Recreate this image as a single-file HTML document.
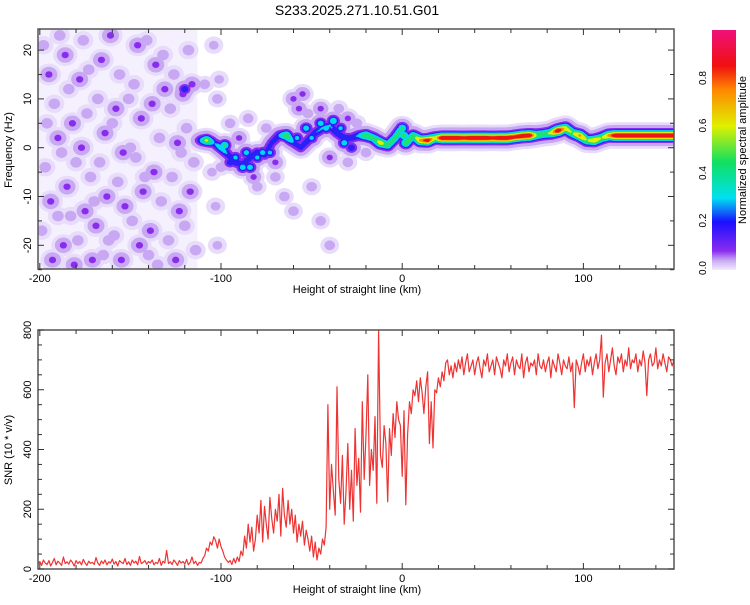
<!DOCTYPE html>
<html><head><meta charset="utf-8"><style>
body{margin:0;background:#fff;}
svg text{font-family:"Liberation Sans",sans-serif;fill:#000;}
</style></head><body>
<svg id="c" width="750" height="600" xmlns="http://www.w3.org/2000/svg">
<defs>
<linearGradient id="cb" x1="0" y1="1" x2="0" y2="0">
<stop offset="0" stop-color="#f2ecfd"/><stop offset="0.04" stop-color="#c9a8f3"/><stop offset="0.08" stop-color="#8a2cf0"/>
<stop offset="0.2" stop-color="#1a10ff"/><stop offset="0.3" stop-color="#00e0f0"/><stop offset="0.45" stop-color="#10e060"/>
<stop offset="0.6" stop-color="#e0f000"/><stop offset="0.75" stop-color="#ff8800"/><stop offset="0.85" stop-color="#f01010"/>
<stop offset="1" stop-color="#f0107a"/>
</linearGradient>
<clipPath id="clipTop"><rect x="38" y="29" width="636" height="240"/></clipPath>
<clipPath id="clipBot"><rect x="38" y="330" width="636" height="239"/></clipPath>
</defs>
<text x="357" y="15" font-size="14" text-anchor="middle">S233.2025.271.10.51.G01</text>
<g id="topg" clip-path="url(#clipTop)"></g>
<g id="botg" clip-path="url(#clipBot)"></g>
<g id="axes"></g>
<rect x="712" y="30" width="24" height="240" fill="url(#cb)"/>
<text transform="translate(746,150) rotate(-90)" font-size="11" text-anchor="middle">Normalized spectral amplitude</text>
<text transform="translate(12,150) rotate(-90)" font-size="11" text-anchor="middle">Frequency (Hz)</text>
<text transform="translate(12,450) rotate(-90)" font-size="11" text-anchor="middle">SNR (10 * v/v)</text>
<text x="357" y="293" font-size="11" text-anchor="middle">Height of straight line (km)</text>
<text x="357" y="593" font-size="11" text-anchor="middle">Height of straight line (km)</text>
</svg>
<script>
const snrStart = -201;
const snrValues = [
18,25,12,30,20,15,28,10,22,35, 14,26,20,12,40,18,24,16,30,22, 10,28,18,25,14,32,20,12,26,19,
22,15,38,20,12,27,18,30,14,24, 20,33,16,25,10,28,22,18,35,15, 24,12,30,20,26,14,42,18,22,28,
16,25,20,30,14,22,18,35,12,26, 20,62,18,24,15,30,22,12,28,20, 25,16,32,14,22,40,18,26,12,22,
20,35,45,70,60,90,80,108,95,70, 100,75,60,40,30,22,28,15,35,20, 40,25,60,45,110,70,150,90,140,60,
100,180,120,230,90,210,150,100,240,170, 120,200,160,250,110,270,180,140,230,150, 200,120,180,90,150,110,160,80,130,100,
60,110,40,90,30,70,50,100,80,140, 550,200,350,260,180,610,300,220,380,150, 260,420,200,330,160,470,280,370,190,560,
300,450,650,280,400,330,510,220,800,380, 340,480,420,225,470,380,520,440,560,500, 480,310,530,215,450,560,520,600,580,630,
560,640,590,520,610,660,420,560,405,600, 590,640,610,660,630,690,700,650,680,640, 690,660,700,670,710,650,690,720,660,680,
700,650,690,710,670,640,700,680,720,660, 680,700,650,710,690,670,640,700,680,720, 660,690,710,650,700,680,670,720,640,690,
710,660,690,680,700,650,720,680,670,700, 660,690,710,640,700,680,660,720,690,650, 700,680,670,710,660,690,540,700,680,650,
690,720,660,700,680,710,650,690,720,670, 700,783,575,690,720,660,700,740,680,650, 710,690,720,660,700,680,740,670,700,690,
720,660,700,680,730,690,580,700,720,680, 690,740,670,700,680,720,690,660,710,700, 680,700];
const ridgeKm  = [-112,-108,-104,-100,-96,-92,-88,-84,-80,-76,-72,-68,-64,-60,-56,-52,-48,-44,-40,-36,-32,-28,-24,-20,-16,-12,-8,-4,0,2,6,10,14,18,22,26,30,34,38,42,46,50,54,58,62,66,70,74,78,82,86,90,94,98,102,106,110,114,118,122,126,130,134,138,142,146,150];
const ridgeFreq= [1.5,1.5,1,0,-1.5,-3,-3.5,-2,-1,-1.5,1,2.5,2.5,1,0,1.5,3,4,4.5,3,2,2,2.5,2.5,2,1,0.5,2,4,1,2.5,1.5,1.5,2,2,2,2,2,2,2,2,2,2,2,2.2,2.4,2.5,2.6,2.8,3,3.5,4,3,2.5,1.5,1.5,2,2.5,2.5,2.5,2.5,2.5,2.5,2.5,2.5,2.5,2.5];
const ridgeAmp = [0.2,0.65,0.28,0.4,0.28,0.3,0.28,0.28,0.3,0.26,0.25,0.28,0.6,0.26,0.25,0.28,0.3,0.32,0.32,0.28,0.3,0.28,0.32,0.6,0.5,0.7,0.5,0.5,0.5,0.6,0.5,0.8,0.95,0.65,1,1,1,0.95,1,1,1,0.95,1,1,0.95,1,1,0.6,0.55,0.65,1,0.7,0.6,0.8,0.6,0.75,0.6,0.8,1,1,1,1,1,1,1,1,1];
const noiseKm = [-198,-195,-192,-190,-197,-194,-199,-193,-186,-184,-182,-188,-185,-183,-187,-181,-176,-178,-174,-177,-172,-175,-179,-171,-166,-168,-164,-167,-163,-169,-165,-161,-156,-158,-154,-157,-153,-159,-155,-160,-146,-148,-144,-147,-143,-149,-145,-150,-136,-138,-134,-137,-133,-139,-135,-141,-126,-128,-124,-127,-123,-129,-125,-131,-118,-116,-119,-115,-117,-120,-114,-121,-196,-190,-180,-173,-162,-151,-142,-132,-122,-189,-170,-140,-104,-103,-102,-105,-101];
const noiseFreq=[21,15,9,2,-4,-11,-17,-23,19,12,5,-1,-8,-14,-20,-24,22,14,7,0,-6,-13,-19,-23,18,10,3,-3,-10,-16,-22,23,15,8,-1,-7,-12,-18,-23,5,21,13,6,-2,-9,-15,-20,0,17,9,2,-5,-11,-17,-24,22,15,8,1,-6,-13,-19,-23,12,20,13,4,-3,-9,-16,-21,11,5,-14,-3,16,-19,10,-6,19,-1,23,-11,-22,21,-12,-20,-5,14];
const noiseAmp =[0.07,0.14,0.07,0.14,0.07,0.14,0.07,0.14,0.14,0.07,0.14,0.07,0.14,0.07,0.14,0.14,0.07,0.14,0.07,0.14,0.07,0.14,0.07,0.14,0.14,0.07,0.14,0.07,0.14,0.14,0.07,0.14,0.07,0.14,0.14,0.07,0.14,0.07,0.14,0.07,0.14,0.07,0.14,0.07,0.14,0.07,0.14,0.07,0.14,0.14,0.07,0.14,0.07,0.14,0.07,0.07,0.07,0.07,0.14,0.07,0.14,0.07,0.14,0.14,0.07,0.14,0.07,0.07,0.14,0.07,0.07,0.14,0.07,0.07,0.07,0.07,0.07,0.07,0.07,0.07,0.07,0.07,0.07,0.07,0.06,0.06,0.06,0.06,0.06];
const hazeKm  = [-95,-85,-80,-75,-70,-60,-57,-55,-52,-65,-60,-50,-45,-40,-35,-30,-25,-45,-90,-82,-70,-40,-30,-20,-100,-102,-109,-98,-88,-80,-73,-45,-38,-34,-120,-28,-53,-92,-84,-77,-58,-42,-32,-50,-95,-86];
const hazeFreq= [5,6,-8,4,-6,10,8,11,7,-10,-13,-8,-15,-20,8,6,5,8,2,-6,-3,-2,-3,-1,-4,10,13,0.5,-4,-2,-1,5,5.5,4,12,0,4,-2,-4,-1,2,4,1,2,-3,-1];
const hazeAmp = [0.07,0.07,0.07,0.07,0.07,0.14,0.14,0.14,0.07,0.07,0.07,0.07,0.07,0.07,0.07,0.14,0.07,0.14,0.14,0.14,0.14,0.14,0.07,0.07,0.07,0.07,0.07,0.5,0.4,0.35,0.35,0.4,0.45,0.35,0.3,0.3,0.4,0.35,0.4,0.38,0.35,0.4,0.4,0.35,0.3,0.38];
const snrTicks = [0,200,400,600,800];
const freqTicks = [-20,-10,0,10,20];
const kmTicks = [-200,-100,0,100];
const cbTicks = [0.0,0.2,0.4,0.6,0.8];

const NS='http://www.w3.org/2000/svg';
const X = km => 38 + (km + 201) * (636 / 351);
const YF = f => 147.7 - f * 4.88;
const YS = v => 569 - v * (239 / 800);
function mk(tag, attrs, parent){const e=document.createElementNS(NS,tag);for(const k in attrs)e.setAttribute(k,attrs[k]);parent.appendChild(e);return e;}
const topG=document.getElementById('topg'), botG=document.getElementById('botg'), ax=document.getElementById('axes');

const bg=mk('rect',{x:X(-201),y:29,width:X(-113)-X(-201),height:240,fill:'#f5f0fd'},topG);



const blobs=[];
for(let i=0;i<noiseKm.length;i++) blobs.push([noiseKm[i],noiseFreq[i],noiseAmp[i],4]);
for(let i=0;i<hazeKm.length;i++) blobs.push([hazeKm[i],hazeFreq[i],hazeAmp[i],3.5]);
for(let i=0;i<ridgeKm.length-1;i++){
  const k0=ridgeKm[i],k1=ridgeKm[i+1];
  for(let k=k0;k<k1;k+=1){const t=(k-k0)/(k1-k0);
    blobs.push([k,ridgeFreq[i]+(ridgeFreq[i+1]-ridgeFreq[i])*t,ridgeAmp[i]+(ridgeAmp[i+1]-ridgeAmp[i])*t,3.5]);}
}
blobs.push([ridgeKm[ridgeKm.length-1],ridgeFreq[ridgeFreq.length-1],ridgeAmp[ridgeAmp.length-1],3.5]);
const levels=[0.03,0.05,0.1,0.2,0.3,0.45,0.6,0.75,0.85];
const extra=[4,2,0,0,0,0,0,0,0];
const lcols=['#e8dcfb','#c9a8f3','#8a2cf0','#2a20f8','#00d8f0','#20e070','#e4f000','#ff8800','#ee1515'];
levels.forEach((L,li)=>{
  const g=mk('g',{fill:lcols[li]},topG);
  
  
  blobs.forEach(b=>{ if(b[2]>L){const r=b[3]*Math.sqrt(2*Math.log(b[2]/L))+extra[li];
    const e=mk('ellipse',{cx:X(b[0]),cy:YF(b[1]),rx:r*1.1,ry:r},g);
    
    }});
});

let d='';
snrValues.forEach((v,i)=>{d+=(i?'L':'M')+X(snrStart+i).toFixed(1)+' '+YS(v).toFixed(1);});
const ln=mk('path',{d:d,fill:'none',stroke:'#ee3333','stroke-width':1.2,'stroke-linejoin':'round'},botG);



function frame(y0,y1,name){
  const r=mk('rect',{x:38,y:y0,width:636,height:y1-y0,fill:'none',stroke:'#555','stroke-width':1.5},ax);
  
  
  for(let km=-200;km<=150;km+=20){const x=X(km);const L=(km%100===0)?6:4;
    mk('line',{x1:x,y1:y0,x2:x,y2:y0+L,stroke:'#333'},ax);mk('line',{x1:x,y1:y1,x2:x,y2:y1-L,stroke:'#333'},ax);}
  kmTicks.forEach(km=>{const t=mk('text',{x:X(km),y:y1+13,'font-size':11,'text-anchor':'middle'},ax);t.textContent=km;
    
    });
}
frame(29,269,'top-plot-frame');
frame(330,569,'bottom-plot-frame');
for(let f=-25;f<=24;f+=5){const y=YF(f);const L=(f%10===0)?6:4;
  mk('line',{x1:38,y1:y,x2:38+L,y2:y,stroke:'#333'},ax);mk('line',{x1:674,y1:y,x2:674-L,y2:y,stroke:'#333'},ax);}
freqTicks.forEach(f=>{const t=mk('text',{transform:`translate(31,${YF(f)}) rotate(-90)`,'font-size':11,'text-anchor':'middle'},ax);t.textContent=f;
  
  });
for(let v=0;v<=800;v+=50){const y=YS(v);const L=(v%200===0)?6:4;
  mk('line',{x1:38,y1:y,x2:38+L,y2:y,stroke:'#333'},ax);mk('line',{x1:674,y1:y,x2:674-L,y2:y,stroke:'#333'},ax);}
snrTicks.forEach(v=>{const t=mk('text',{transform:`translate(31,${YS(v)}) rotate(-90)`,'font-size':11,'text-anchor':'middle'},ax);t.textContent=v;
  
  });
cbTicks.forEach(v=>{const y=268-v*237.5;const t=mk('text',{transform:`translate(706,${y}) rotate(-90)`,'font-size':10,'text-anchor':'middle'},ax);t.textContent=v.toFixed(1);
  
  });
</script>
</body></html>
